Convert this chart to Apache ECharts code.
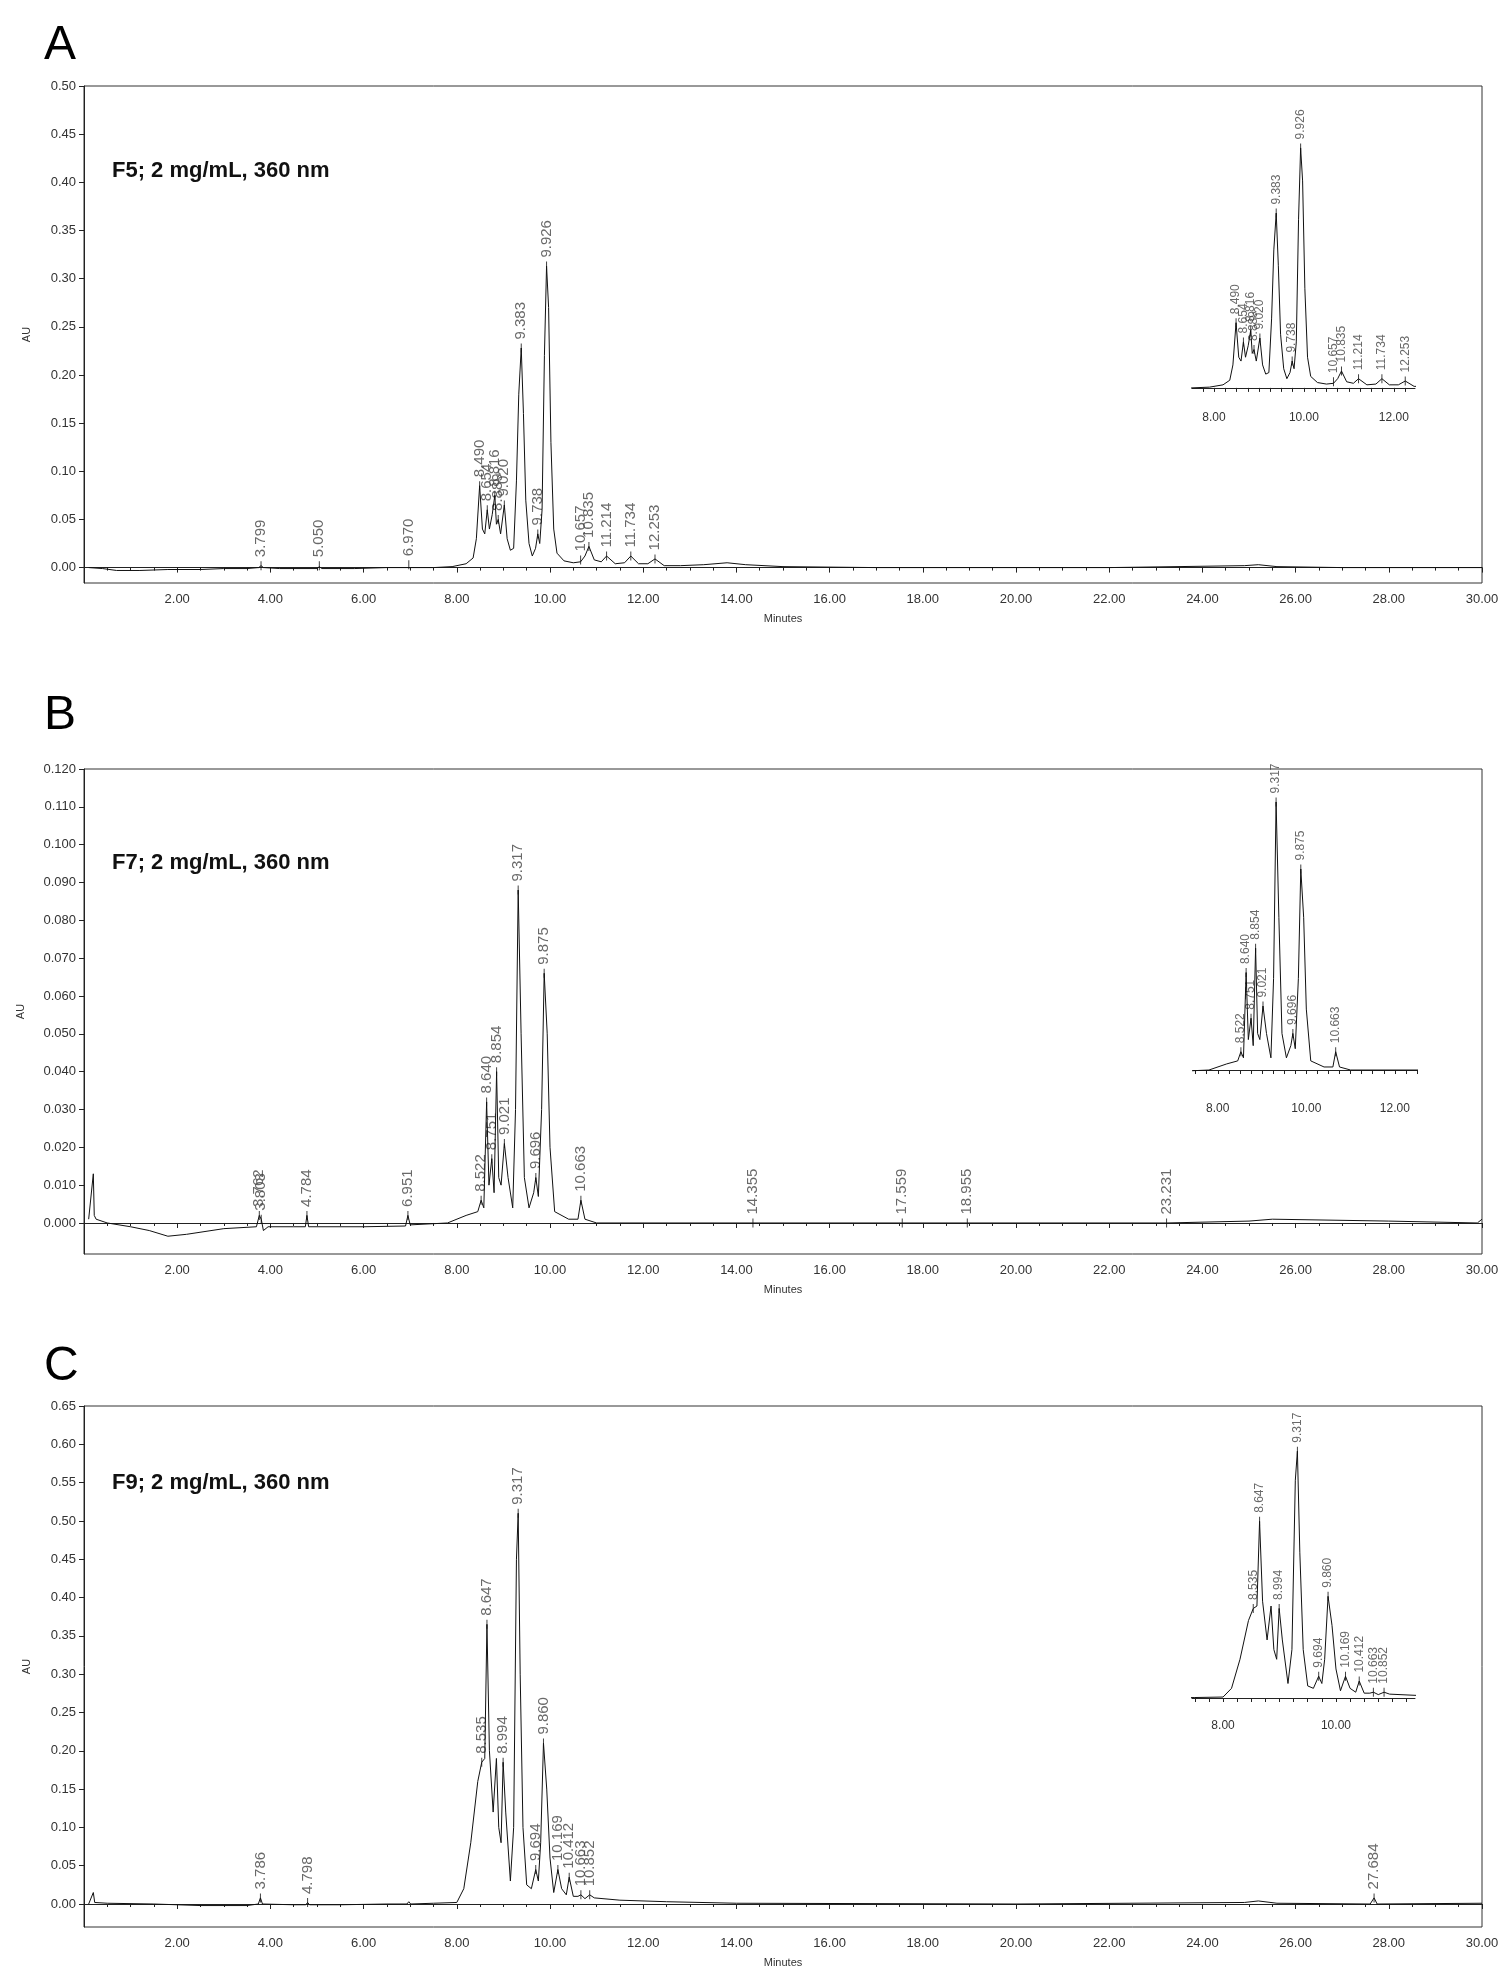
<!DOCTYPE html>
<html><head><meta charset="utf-8">
<script src="https://cdn.jsdelivr.net/npm/echarts@6/dist/echarts.min.js"></script>
<style>html,body{margin:0;padding:0;background:#fff}#c{width:1511px;height:1984px}</style>
</head><body><div id="c"></div>
<script>
// ---- Data: panel A (F5) ----
const timeA = [0.1,0.4,0.7,1.2,1.8,2.5,3.0,3.5,3.75,3.799,3.85,4.2,5.0,5.05,5.1,5.8,6.5,6.93,6.97,7.01,7.5,7.9,8.2,8.35,8.42,8.49,8.55,8.6,8.654,8.7,8.76,8.816,8.85,8.889,8.94,9.02,9.08,9.15,9.22,9.28,9.33,9.383,9.43,9.48,9.55,9.62,9.69,9.738,9.78,9.83,9.88,9.926,9.97,10.02,10.08,10.15,10.3,10.5,10.657,10.75,10.835,10.95,11.1,11.214,11.4,11.6,11.734,11.9,12.1,12.253,12.45,12.8,13.3,13.8,14.2,15,17,20,22,24.9,25.2,25.6,27,30];
const auA   = [0.000,-0.001,-0.003,-0.003,-0.002,-0.002,-0.001,-0.001,0.000,0.002,0.000,-0.001,-0.001,0.001,-0.001,-0.001,0.000,0.000,0.002,0.000,0.000,0.001,0.004,0.01,0.03,0.085,0.04,0.035,0.06,0.04,0.055,0.075,0.045,0.05,0.035,0.065,0.03,0.018,0.02,0.09,0.18,0.228,0.16,0.07,0.025,0.012,0.02,0.035,0.025,0.06,0.22,0.313,0.27,0.13,0.04,0.015,0.007,0.005,0.006,0.012,0.022,0.008,0.006,0.012,0.004,0.005,0.012,0.004,0.004,0.009,0.002,0.002,0.003,0.005,0.003,0.001,0.000,0.000,0.000,0.002,0.003,0.001,0.000,0.000];
const peakTA = [3.799,5.050,6.970,8.490,8.654,8.816,8.889,9.020,9.383,9.738,9.926,10.657,10.835,11.214,11.734,12.253];
const peakHA = [0.002,0.002,0.003,0.085,0.06,0.075,0.05,0.065,0.228,0.035,0.313,0.008,0.022,0.012,0.012,0.009];

// ---- Data: panel B (F7) ----
const timeB = [0.1,0.2,0.22,0.26,0.5,1.0,1.4,1.8,2.2,3.0,3.7,3.762,3.803,3.85,3.95,4.5,4.75,4.784,4.82,6.0,6.9,6.951,7.0,7.8,8.2,8.45,8.522,8.58,8.64,8.69,8.751,8.8,8.854,8.9,8.95,9.021,9.1,9.2,9.26,9.317,9.38,9.45,9.55,9.65,9.696,9.75,9.82,9.875,9.94,10.0,10.1,10.4,10.6,10.663,10.75,11.0,14.355,17.559,18.955,22,23.231,25,25.5,28,29.9,30];
const auB   = [0.001,0.013,0.002,0.001,0.000,-0.001,-0.002,-0.0035,-0.003,-0.0015,-0.001,0.002,0.001,-0.002,-0.001,-0.001,-0.001,0.002,-0.001,-0.001,-0.0008,0.002,-0.0005,0.000,0.002,0.003,0.006,0.004,0.032,0.01,0.017,0.008,0.040,0.012,0.01,0.021,0.012,0.004,0.03,0.088,0.05,0.012,0.004,0.008,0.012,0.007,0.03,0.066,0.05,0.02,0.003,0.001,0.001,0.006,0.001,0.000,0.000,0.000,0.000,0.000,0.000,0.0005,0.001,0.0005,0.000,0.001];
const peakTB = [3.762,3.803,4.784,6.951,8.522,8.640,8.751,8.854,9.021,9.317,9.696,9.875,10.663,14.355,17.559,18.955,23.231];
const peakHB = [0.002,0.001,0.002,0.002,0.006,0.032,0.017,0.040,0.021,0.088,0.012,0.066,0.006,0.000,0.000,0.000,0.000];

// ---- Data: panel C (F9) ----
const timeC = [0.1,0.2,0.23,0.5,1.5,2.5,3.5,3.74,3.786,3.83,4.5,4.76,4.798,4.84,5.5,6.5,6.93,6.97,7.01,7.5,8.0,8.15,8.3,8.45,8.535,8.6,8.647,8.7,8.78,8.85,8.9,8.95,8.994,9.05,9.15,9.22,9.28,9.317,9.36,9.42,9.5,9.6,9.694,9.75,9.8,9.86,9.93,10.0,10.08,10.169,10.25,10.35,10.412,10.5,10.6,10.663,10.75,10.852,10.95,11.5,12.5,14,20,24.9,25.2,25.6,27.6,27.684,27.75,30];
const auC   = [0.000,0.015,0.002,0.001,0.000,-0.002,-0.002,0.000,0.008,0.000,-0.001,-0.001,0.002,-0.001,-0.001,0.000,0.000,0.003,0.000,0.001,0.002,0.02,0.08,0.16,0.185,0.19,0.365,0.2,0.12,0.19,0.1,0.08,0.185,0.12,0.03,0.1,0.45,0.51,0.3,0.1,0.025,0.02,0.045,0.03,0.08,0.21,0.15,0.06,0.015,0.045,0.02,0.012,0.035,0.01,0.01,0.012,0.007,0.012,0.008,0.005,0.003,0.001,0.000,0.002,0.004,0.001,0.000,0.008,0.000,0.001];
const peakTC = [3.786,4.798,8.535,8.647,8.994,9.317,9.694,9.860,10.169,10.412,10.663,10.852,27.684];
const peakHC = [0.008,0.002,0.185,0.365,0.185,0.51,0.045,0.21,0.045,0.035,0.012,0.012,0.008];

// ---- Tick labels ----
const xTicks = [2,4,6,8,10,12,14,16,18,20,22,24,26,28,30];
const yTicksA = [0,0.05,0.10,0.15,0.20,0.25,0.30,0.35,0.40,0.45,0.50];
const yTicksB = [0,0.01,0.02,0.03,0.04,0.05,0.06,0.07,0.08,0.09,0.10,0.11,0.12];
const yTicksC = [0,0.05,0.10,0.15,0.20,0.25,0.30,0.35,0.40,0.45,0.50,0.55,0.60,0.65];
const insetTicks = [8,10,12];
const titles = ['F5; 2 mg/mL, 360 nm','F7; 2 mg/mL, 360 nm','F9; 2 mg/mL, 360 nm'];
const panelLetters = ['A','B','C'];

const zip = (a,b)=>a.map((v,i)=>[v,b[i]]);
const txt = '#333';
const font = 'Arial, "Liberation Sans", sans-serif';

const mains = [
  {top:86,h:497,ymin:-0.016,ymax:0.5,ticks:yTicksA,dec:2,t:timeA,v:auA,pt:peakTA,ph:peakHA},
  {top:769,h:485,ymin:-0.0082,ymax:0.12,ticks:yTicksB,dec:3,t:timeB,v:auB,pt:peakTB,ph:peakHB},
  {top:1406,h:521,ymin:-0.03,ymax:0.65,ticks:yTicksC,dec:2,t:timeC,v:auC,pt:peakTC,ph:peakHC}
];
const insets = [
  {left:1192,w:223,top:105,h:299,xmin:7.51,xmax:12.47,ymin:-0.021,ymax:0.369},
  {left:1193,w:224,top:770,h:325,xmin:7.44,xmax:12.5,ymin:-0.0082,ymax:0.0985},
  {left:1192,w:223,top:1410,h:302,xmin:7.45,xmax:11.4,ymin:-0.0289,ymax:0.595}
];

const grid=[],xAxis=[],yAxis=[],series=[],graphic=[];
mains.forEach((m,i)=>{
  grid.push({left:84,right:29,top:m.top,height:m.h,show:true,borderColor:'#333',borderWidth:1,backgroundColor:'transparent'});
  xAxis.push({type:'value',gridIndex:i,min:0,max:30,interval:2,
    name:'Minutes',nameLocation:'middle',nameGap:30,nameTextStyle:{fontSize:11,color:txt,fontFamily:font},
    axisLine:{lineStyle:{color:'#222'}},axisTick:{length:5,lineStyle:{color:'#222'}},
    minorTick:{show:true,splitNumber:4,length:3,lineStyle:{color:'#222'}},
    splitLine:{show:false},
    axisLabel:{fontSize:13,color:txt,fontFamily:font,margin:10,formatter:v=>xTicks.includes(v)?v.toFixed(2):''}});
  yAxis.push({type:'value',gridIndex:i,min:m.ymin,max:m.ymax,
    name:'AU',nameLocation:'middle',nameGap:i===1?58:52,nameTextStyle:{fontSize:11,color:txt,fontFamily:font},
    axisLine:{show:true,lineStyle:{color:'#222'}},splitLine:{show:false},
    axisTick:{show:true,length:5,customValues:m.ticks,lineStyle:{color:'#222'}},
    axisLabel:{fontSize:13,color:txt,fontFamily:font,customValues:m.ticks,formatter:v=>v.toFixed(m.dec)}});
});
insets.forEach((s,i)=>{
  const gi=3+i;
  const tk=[];for(let v=Math.ceil(s.xmin*4)/4;v<=s.xmax;v+=0.25)tk.push(+v.toFixed(2));
  grid.push({left:s.left,width:s.w,top:s.top,height:s.h});
  xAxis.push({type:'value',gridIndex:gi,min:s.xmin,max:s.xmax,splitLine:{show:false},
    axisLine:{lineStyle:{color:'#222'}},
    axisTick:{length:4,customValues:tk,lineStyle:{color:'#222'}},
    axisLabel:{fontSize:12,color:txt,fontFamily:font,customValues:insetTicks,formatter:v=>v.toFixed(2)}});
  yAxis.push({type:'value',gridIndex:gi,min:s.ymin,max:s.ymax,show:false,splitLine:{show:false}});
});

function addSeries(gi,t,v,pt,ph,fs,xr){
  series.push({type:'line',xAxisIndex:gi,yAxisIndex:gi,data:zip(t,v),showSymbol:false,smooth:false,
    lineStyle:{color:'#111',width:1},animation:false,silent:true});
  let pk=zip(pt,ph);
  if(xr) pk=pk.filter(p=>p[0]>=xr[0]&&p[0]<=xr[1]);
  series.push({type:'scatter',xAxisIndex:gi,yAxisIndex:gi,data:pk,symbol:'rect',symbolSize:[1,9],
    itemStyle:{color:'#111'},animation:false,silent:true,
    label:{show:true,position:'top',rotate:90,align:'left',verticalAlign:'middle',distance:4,
      fontSize:fs,color:'#444',fontFamily:font,formatter:p=>p.value[0].toFixed(3)}});
}
mains.forEach((m,i)=>addSeries(i,m.t,m.v,m.pt,m.ph,15,null));
insets.forEach((s,i)=>{const m=mains[i];addSeries(3+i,m.t,m.v,m.pt,m.ph,12,[s.xmin,s.xmax]);});

const letterY=[22,692,1343], titleY=[160,852,1472];
[0,1,2].forEach(i=>{
  graphic.push({type:'text',left:44,top:letterY[i],style:{text:panelLetters[i],font:'48px "Liberation Sans", Arial, sans-serif',fill:'#000'}});
  graphic.push({type:'text',left:112,top:titleY[i],style:{text:titles[i],font:'bold 22px "Liberation Sans", Arial, sans-serif',fill:'#111'}});
});

const chart=echarts.init(document.getElementById('c'),null,{renderer:'canvas'});
chart.setOption({backgroundColor:'#fff',animation:false,grid,xAxis,yAxis,series,graphic});
</script></body></html>
